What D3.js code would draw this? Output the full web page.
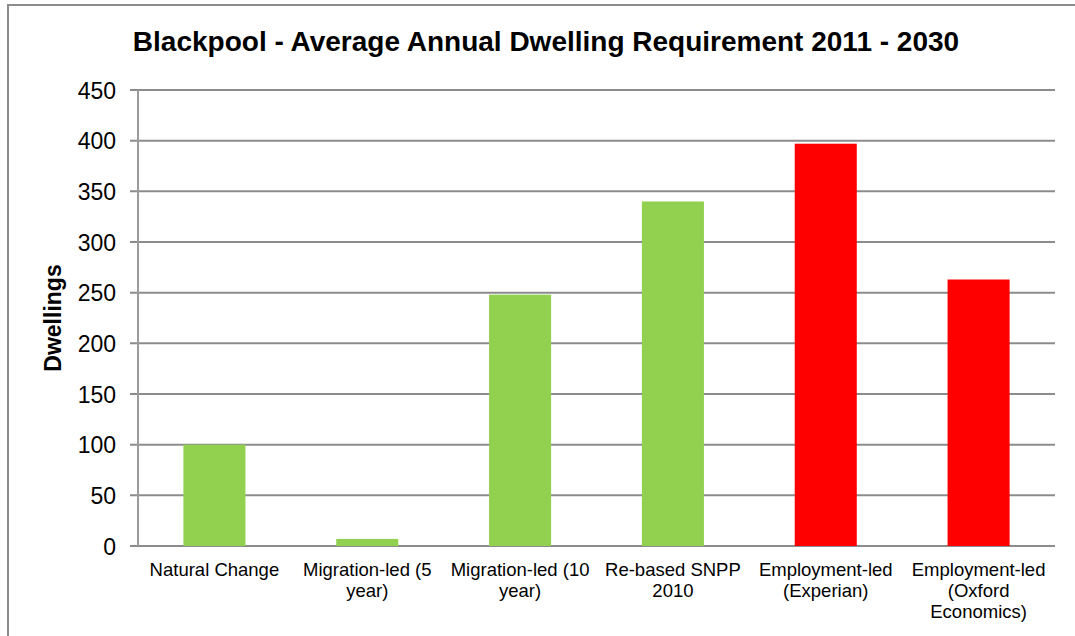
<!DOCTYPE html>
<html lang="en">
<head>
<meta charset="UTF-8">
<title>Blackpool - Average Annual Dwelling Requirement 2011 - 2030</title>
<script src="https://d3js.org/d3.v7.min.js"></script>
<style>
    body { margin: 0; padding: 0; background: #fff; font-family: "Liberation Sans", Arial, sans-serif; }
    .title { font-size: 28px; font-weight: bold; text-anchor: middle; fill: #000; }
    .yTitle { font-size: 23px; font-weight: bold; text-anchor: middle; fill: #000; }
    .grid line { stroke: #8c8c8c; stroke-width: 2px; }
    .yAxis text { font-size: 23px; fill: #000; }
    .xLabel { font-size: 18.5px; fill: #000; text-anchor: middle; }
</style>
</head>
<body>
<div id="canvas"></div>
<script>
    // data
    var categories = ["Natural Change", "Migration-led (5\nyear)", "Migration-led (10\nyear)",
                      "Re-based SNPP\n2010", "Employment-led\n(Experian)", "Employment-led\n(Oxford\nEconomics)"];
    var values = [100, 7, 248, 340, 397, 263];
    var barColors = ["#92d050", "#92d050", "#92d050", "#92d050", "#ff0000", "#ff0000"];
    var yTicks = [0, 50, 100, 150, 200, 250, 300, 350, 400, 450];

    var W = 1075, H = 636;
    var margin = {top: 90, right: 20, bottom: 90, left: 138},
        width = 1055 - margin.left,
        height = 546 - margin.top;

    var svg = d3.select("#canvas").append("svg")
        .attr("width", W)
        .attr("height", H);

    // chart frame
    svg.append("rect")
        .attr("x", 8).attr("y", 5)
        .attr("width", W + 10).attr("height", H + 10)
        .attr("fill", "none")
        .attr("stroke", "#8c8c8c")
        .attr("stroke-width", 2);

    var g = svg.append("g")
        .attr("transform", "translate(" + margin.left + "," + margin.top + ")");

    var x = d3.scaleBand()
        .domain(categories)
        .range([0, width])
        .paddingInner(0.594)
        .paddingOuter(0.297);

    var y = d3.scaleLinear()
        .domain([0, 450])
        .range([height, 0]);

    // gridlines + tick marks
    var grid = g.append("g").attr("class", "grid");
    grid.selectAll("line")
        .data(yTicks)
        .enter().append("line")
        .attr("x1", -8)
        .attr("x2", width)
        .attr("y1", function(d) { return y(d); })
        .attr("y2", function(d) { return y(d); });

    // y axis line
    g.append("line")
        .attr("x1", 0).attr("x2", 0)
        .attr("y1", 0).attr("y2", height)
        .attr("stroke", "#9a9a9a")
        .attr("stroke-width", 2);

    var yAxis = g.append("g")
        .attr("class", "yAxis")
        .call(d3.axisLeft(y).tickValues(yTicks).tickSize(0).tickPadding(22));
    yAxis.select(".domain").remove();
    yAxis.selectAll("text").attr("dy", "0.36em");

    // bars
    g.selectAll("rect.bar")
        .data(values)
        .enter().append("rect")
        .attr("class", "bar")
        .attr("x", function(d, i) { return x(categories[i]); })
        .attr("width", x.bandwidth())
        .attr("y", function(d) { return y(d); })
        .attr("height", function(d) { return height - y(d); })
        .attr("fill", function(d, i) { return barColors[i]; });

    // category labels (multi-line)
    var labels = g.selectAll("text.xLabel")
        .data(categories)
        .enter().append("text")
        .attr("class", "xLabel")
        .attr("transform", function(d) { return "translate(" + (x(d) + x.bandwidth() / 2) + "," + (height + 30) + ")"; });
    labels.each(function(d) {
        var t = d3.select(this);
        d.split("\n").forEach(function(line, k) {
            t.append("tspan").attr("x", 0).attr("y", k * 21).text(line);
        });
    });

    // titles
    svg.append("text")
        .attr("class", "title")
        .attr("x", 546)
        .attr("y", 51)
        .text("Blackpool - Average Annual Dwelling Requirement 2011 - 2030");

    svg.append("text")
        .attr("class", "yTitle")
        .attr("transform", "translate(61," + (margin.top + height / 2) + ") rotate(-90)")
        .text("Dwellings");
</script>
</body>
</html>
